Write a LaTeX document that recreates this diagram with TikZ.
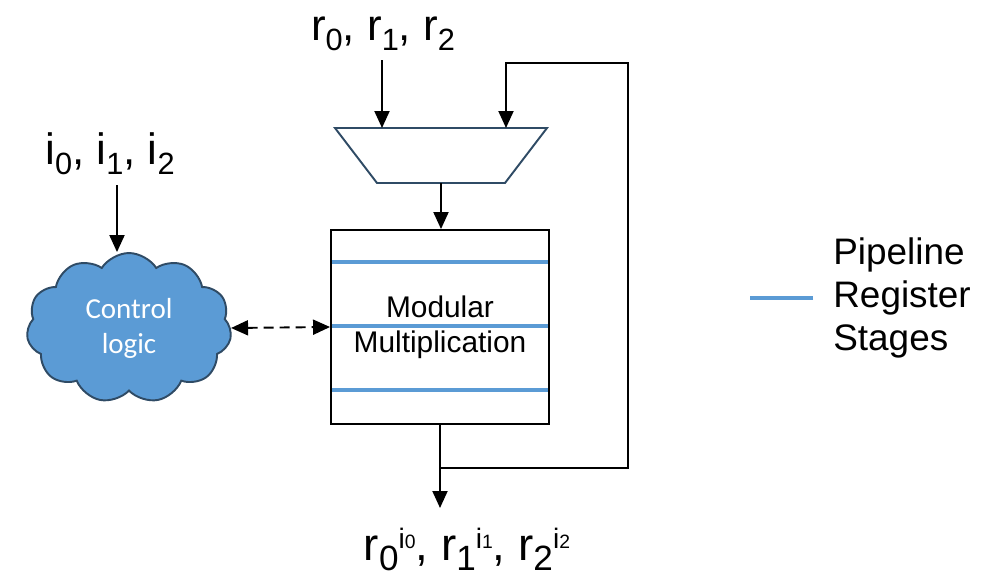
\documentclass[tikz,border=0pt]{standalone}
\usepackage{fontspec}
\setmainfont{Liberation Sans}
\newfontfamily\carlito{Carlito}
\usetikzlibrary{shapes.symbols,arrows.meta}
\definecolor{regblue}{HTML}{5B9BD5}
\definecolor{edgeblue}{HTML}{2F4B65}
% index below, index above (with its own small index)
\newcommand{\lo}[2][17.5]{\raisebox{-5.7pt}{\fontsize{#1}{#1}\selectfont #2}}
\newcommand{\hi}[2]{\raisebox{6.5pt}{\fontsize{16}{16}\selectfont #1\fontsize{11}{11}\selectfont #2}}
\begin{document}
\begin{tikzpicture}[x=0.02cm,y=-0.02cm]
		\tikzset{wire/.style={line width=1.1pt, -{Triangle[length=0.34cm,width=0.3cm]}},
		         reg/.style={regblue, line width=2.3pt},
		         lab/.style={inner sep=0pt, anchor=base, font=\fontsize{25}{30}\selectfont}};
		\useasboundingbox (0,0) rectangle (995,578);
		\node[lab] (rlab) at (383, 40) {r\lo{0}, r\lo{1}, r\lo{2}};
		\node[lab] (ilab) at (110,164) {i\lo{0}, i\lo{1}, i\lo{2}};
		\node[lab, font=\fontsize{26}{30}\selectfont] (olab) at (467,560) {r\lo[20]{0}\hi{i}{0}, r\lo[20]{1}\hi{i}{1}, r\lo[20]{2}\hi{i}{2}};
		% multiplexer
		\coordinate (muxtl) at (335,128);
		\coordinate (muxtr) at (547,128);
		\coordinate (muxbr) at (505,183);
		\coordinate (muxbl) at (377,183);
		\coordinate (muxout) at (441,183);
		\draw[edgeblue, line width=1.1pt] (muxtl) -- (muxtr) -- (muxbr) -- (muxbl) -- cycle;
		\node[draw, line width=1.1pt, minimum width=4.36cm, minimum height=3.88cm, align=center,
		      font=\fontsize{17}{20}\selectfont] (modmul) at (440,327) {Modular\\Multiplication};
		\node[cloud, cloud puffs=11, cloud puff arc=115, aspect=1.4, draw=edgeblue, fill=regblue, line width=1.1pt,
		      minimum width=4.1cm, minimum height=3cm, text=white, align=center,
		      font=\carlito\fontsize{16.5}{20}\selectfont] (ctrl) at (129,328) {Control\\logic};
		\node[anchor=west, align=left, inner sep=0pt, font=\fontsize{21}{24.5}\selectfont] (legend) at (833,298) {Pipeline\\Register\\Stages};
		\foreach \y in {262,326,390}
			\draw[reg, shorten <=1pt, shorten >=1pt] (modmul.west |- 0,\y) -- (modmul.east |- 0,\y);
		\draw[reg] ([xshift=-0.4cm]legend.west) -- ([xshift=-1.66cm]legend.west);
		\coordinate (rin) at (382, 60);
		\coordinate (iin) at (117,185);
		\coordinate (fbin) at (506, 63);
		\coordinate (fbtr) at (628, 63);
		\coordinate (fbbr) at (628,468);
		\coordinate (fbj) at (440,468);
		\coordinate (oout) at (440,508);
		\draw[wire] (rin) -- (rin |- muxtl);
		\draw[wire] (iin) -- (iin |- ctrl.north);
		\draw[wire] (muxout) -- (muxout |- modmul.north);
		\draw[wire] (modmul.south) -- (oout);
		\draw[wire] (fbj) -- (fbbr) -- (fbtr) -- (fbin) -- (fbin |- muxtl);
		\draw[line width=1.1pt, dash pattern=on 5.7pt off 3.4pt, {Triangle[length=0.34cm,width=0.3cm]}-{Triangle[length=0.34cm,width=0.3cm]}]
		      (ctrl.east) -- (modmul.west);
	\end{tikzpicture}
\end{document}
